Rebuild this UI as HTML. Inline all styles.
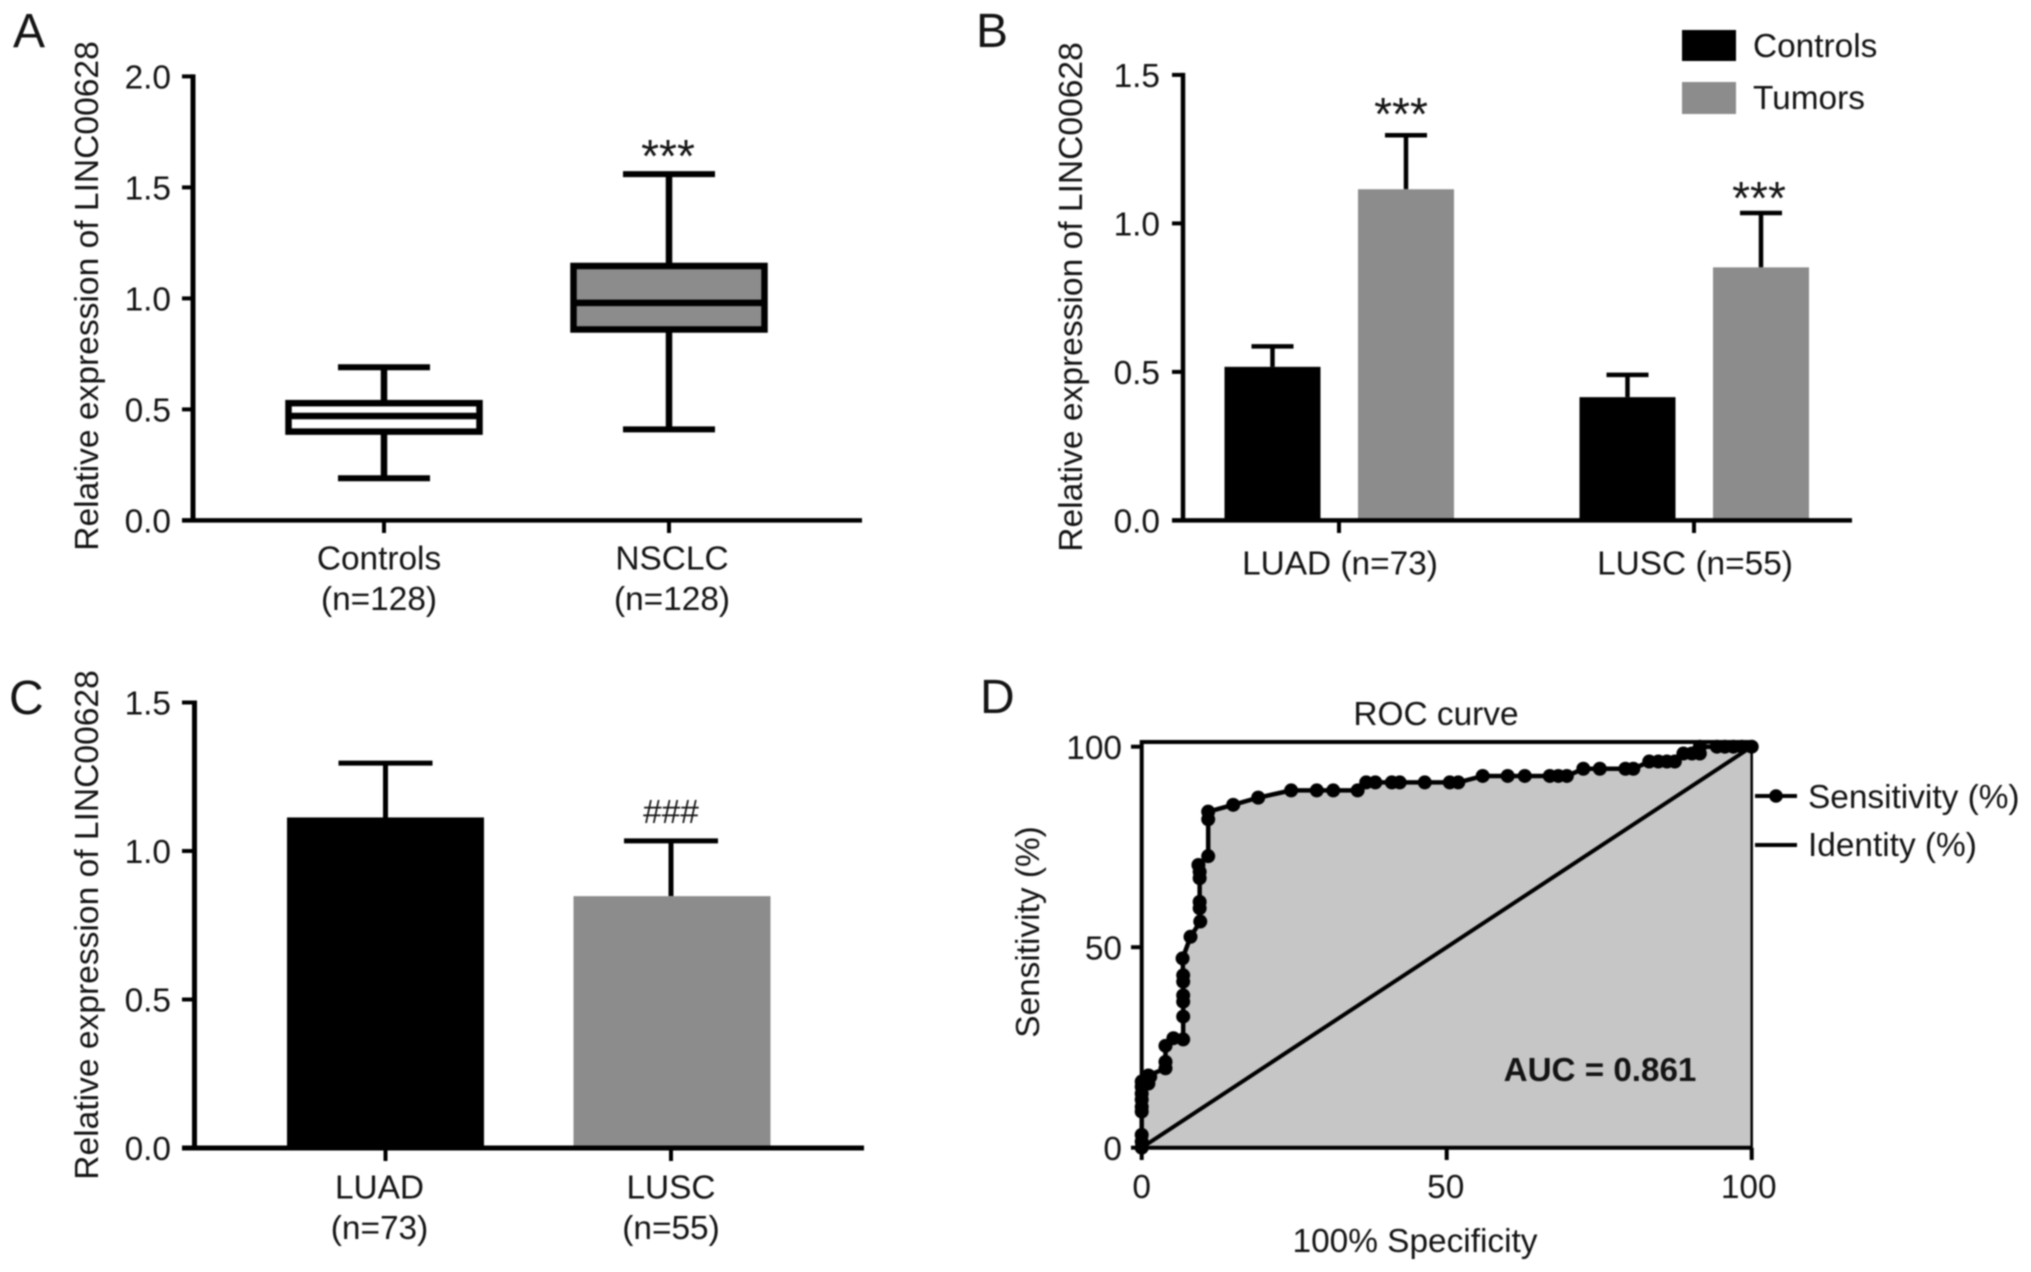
<!DOCTYPE html>
<html lang="en">
<head>
<meta charset="utf-8">
<title>LINC00628 expression figure</title>
<style>
html,body{margin:0;padding:0;background:#fff;overflow:hidden}
svg{display:block;filter:blur(.85px)}
text{font-family:"Liberation Sans",sans-serif;font-size:33.4px;fill:#141414}
.letter{font-size:48px}
</style>
</head>
<body>
<svg id="figure" xmlns="http://www.w3.org/2000/svg" width="2031" height="1272" viewBox="0 0 2031 1272">
  <rect width="2031" height="1272" fill="#fff"/>
  <text class="letter" x="13" y="47">A</text>
  <text class="letter" x="976" y="47">B</text>
  <text class="letter" x="9" y="714">C</text>
  <text class="letter" x="980" y="713">D</text>

  <g id="panelA"></g>
  <g id="panelB"></g>
  <g id="panelC"></g>
  <g id="panelD"></g>

  <text text-anchor="middle" style="font-size:33.6px" transform="translate(98,296) rotate(-90)">Relative expression of LINC00628</text>
  <text text-anchor="middle" style="font-size:33.6px" transform="translate(1082,297) rotate(-90)">Relative expression of LINC00628</text>
  <text text-anchor="middle" style="font-size:33.6px" transform="translate(98,925) rotate(-90)">Relative expression of LINC00628</text>
  <text text-anchor="middle" transform="translate(1039,932) rotate(-90)">Sensitivity (%)</text>

  <rect x="1682" y="30" width="54" height="31" fill="#000"/>
  <text x="1753" y="57">Controls</text>
  <rect x="1682" y="82" width="54" height="32" fill="#8c8c8c"/>
  <text x="1753" y="109">Tumors</text>

  <text x="1436" y="725" text-anchor="middle">ROC curve</text>
  <text x="1415" y="1252" text-anchor="middle">100% Specificity</text>
  <text x="1600" y="1081" text-anchor="middle" style="font-size:33.2px;font-weight:bold">AUC = 0.861</text>
  <line x1="1755" x2="1797" y1="796" y2="796" stroke="#000" stroke-width="4"/>
  <circle cx="1776" cy="796" r="6.8" fill="#000"/>
  <text x="1808" y="808">Sensitivity (%)</text>
  <line x1="1755" x2="1797" y1="845" y2="845" stroke="#000" stroke-width="4"/>
  <text x="1808" y="856">Identity (%)</text>
</svg>
<script>
// Panel A: box plot data
const boxCategories = ['Controls', 'NSCLC'];
const boxSampleSizes = ['(n=128)', '(n=128)'];
const boxWhiskerHigh = [0.69, 1.56];
const boxQ3 = [0.528, 1.146];
const boxMedian = [0.47, 0.98];
const boxQ1 = [0.40, 0.86];
const boxWhiskerLow = [0.19, 0.41];
const boxTickValues = [0, 0.5, 1, 1.5, 2];
const boxTickLabels = ['0.0', '0.5', '1.0', '1.5', '2.0'];

// Panel B: grouped bars data
const groupCategories = ['LUAD (n=73)', 'LUSC (n=55)'];
const groupControlsMean = [0.517, 0.415];
const groupControlsUpper = [0.586, 0.49];
const groupTumorsMean = [1.115, 0.852];
const groupTumorsUpper = [1.297, 1.035];
const groupTickValues = [0, 0.5, 1, 1.5];
const groupTickLabels = ['0.0', '0.5', '1.0', '1.5'];

// Panel C: two-bar data
const subtypeCategories = ['LUAD', 'LUSC'];
const subtypeSampleSizes = ['(n=73)', '(n=55)'];
const subtypeMean = [1.113, 0.848];
const subtypeUpper = [1.296, 1.034];
const subtypeTickValues = [0, 0.5, 1, 1.5];
const subtypeTickLabels = ['0.0', '0.5', '1.0', '1.5'];

// Panel D: ROC data
const rocSpecificity = [0,0,0,0,0,0,0,0,0,1.1,1.4,1.1,3.9,3.9,3.9,5.2,6.8,6.8,6.8,6.8,6.8,6.8,6.7,8,9.6,9.5,9.5,9.5,9.5,9.3,10.9,10.9,10.9,15,19.1,24.5,28.7,31.4,35.4,36.8,38.3,41,42.3,46.4,50.5,51.9,55.9,60,62.8,66.9,68.3,69.7,72.4,75.1,79.3,80.6,83.2,84.7,86.1,87.4,88.8,90.2,91.5,91.5,94.3,95.6,97,98.4,100];
const rocSensitivity = [0,1.5,3.2,9,10.2,12,13.5,15.2,16.5,16,17.7,18,19.8,21.4,25.4,27.3,27,32.7,36.4,38,41.4,43,47.2,52.6,56.4,59.7,61.3,67.2,68.8,70.5,72.7,81.9,83.8,85.5,87.3,89.1,89.1,89.1,89.1,91.1,91.1,91.1,91.1,91.1,91.1,91.1,92.7,92.7,92.7,92.7,92.7,92.7,94.5,94.5,94.5,94.5,96.3,96.3,96.3,96.3,98.3,98.3,98.3,100,100,100,100,100,100];
const rocTickValues = [0, 50, 100];
const rocTickLabels = ['0', '50', '100'];
const identityLine = [0, 100];

const NS = 'http://www.w3.org/2000/svg';
const BLACK = '#000';
const GRAY = '#8c8c8c';

function mk(parent, tag, attrs, txt) {
  const el = document.createElementNS(NS, tag);
  for (const k in attrs) el.setAttribute(k, attrs[k]);
  if (txt !== undefined) el.textContent = txt;
  parent.appendChild(el);
  return el;
}
function seg(parent, x1, y1, x2, y2, w) {
  const el = mk(parent, 'line', {x1: x1, y1: y1, x2: x2, y2: y2, stroke: BLACK, 'stroke-width': w});
  
  return el;
}
function yAxis(parent, x, tickStart, yFn, vals, labels, labelRight, w) {
  const top = yFn(vals[vals.length - 1]);
  const bottom = yFn(vals[0]);
  const axis = seg(parent, x, top - 2, x, bottom, w);
  
  vals.forEach(function (v, i) {
    const tick = seg(parent, tickStart, yFn(v), x, yFn(v), 4);
    
    const lab = mk(parent, 'text', {x: labelRight, y: yFn(v) + 12, 'text-anchor': 'end'}, labels[i]);
    
    
  });
}
function errorBar(parent, cx, yTop, yBase, capHalf, w) {
  const stem = seg(parent, cx, yTop, cx, yBase, w);
  
  const cap = seg(parent, cx - capHalf, yTop, cx + capHalf, yTop, w);
  
}
function label(parent, x, y, str, size) {
  const el = mk(parent, 'text', {x: x, y: y, 'text-anchor': 'middle', style: 'font-size:' + size + 'px'}, str);
  
  return el;
}

/* ---------- Panel A ---------- */
(function () {
  const g = document.getElementById('panelA');
  const y = function (v) { return 520.4 - v * 222; };
  const x = function (i) { return 384 + i * 285; };
  const boxW = 191, capHalf = 46;
  boxCategories.forEach(function (c, i) {
    const cx = x(i);
    const stemTop = seg(g, cx, y(boxWhiskerHigh[i]), cx, y(boxQ3[i]), 6.5);
    
    const stemBot = seg(g, cx, y(boxQ1[i]), cx, y(boxWhiskerLow[i]), 6.5);
    
    const capTop = seg(g, cx - capHalf, y(boxWhiskerHigh[i]), cx + capHalf, y(boxWhiskerHigh[i]), 6);
    
    const capBot = seg(g, cx - capHalf, y(boxWhiskerLow[i]), cx + capHalf, y(boxWhiskerLow[i]), 6);
    
    const box = mk(g, 'rect', {x: cx - boxW / 2, y: y(boxQ3[i]), width: boxW, height: y(boxQ1[i]) - y(boxQ3[i]), fill: i === 0 ? '#fff' : GRAY, stroke: BLACK, 'stroke-width': 6.5});
    
    
    const med = seg(g, cx - boxW / 2, y(boxMedian[i]), cx + boxW / 2, y(boxMedian[i]), 6.5);
    
    const tick = seg(g, x(i), 520, x(i), 533, 4);
    
    const l1 = label(g, x(i) - 5 + i * 8, 569.5, c, 33.4);
    
    const l2 = label(g, x(i) - 5 + i * 8, 610, boxSampleSizes[i], 33.4);
    
  });
  yAxis(g, 193, 182, y, boxTickValues, boxTickLabels, 171, 5);
  const xa = seg(g, 182, 520.4, 862, 520.4, 4.5);
  
  const sig = label(g, x(1) - 1, 172, '***', 46);
  
})();

/* ---------- Panel B ---------- */
(function () {
  const g = document.getElementById('panelB');
  const y = function (v) { return 520.4 - v * 297; };
  const x = function (i) { return 1339 + i * 355; };
  const barW = 96, capHalf = 21;
  groupCategories.forEach(function (c, i) {
    const cLeft = x(i) - 66.5, cRight = x(i) + 67;
    errorBar(g, cLeft, y(groupControlsUpper[i]), y(groupControlsMean[i]), capHalf, 4.5);
    errorBar(g, cRight, y(groupTumorsUpper[i]), y(groupTumorsMean[i]), capHalf, 4.5);
    const b1 = mk(g, 'rect', {x: cLeft - barW / 2, y: y(groupControlsMean[i]), width: barW, height: y(0) - y(groupControlsMean[i]), fill: BLACK});
    
    
    const b2 = mk(g, 'rect', {x: cRight - barW / 2, y: y(groupTumorsMean[i]), width: barW, height: y(0) - y(groupTumorsMean[i]), fill: GRAY});
    
    
    const sig = label(g, cRight - 5 + i * 3, y(groupTumorsUpper[i]) - 5 + i * 6, '***', 46);
    
    const tick = seg(g, x(i), 520, x(i), 533, 4);
    
    const l = label(g, x(i) + 1, 574.5, c, 33.4);
    
  });
  yAxis(g, 1183, 1172, y, groupTickValues, groupTickLabels, 1160, 4.5);
  const xa = seg(g, 1172, 520.4, 1852, 520.4, 4.5);
  
})();

/* ---------- Panel C ---------- */
(function () {
  const g = document.getElementById('panelC');
  const y = function (v) { return 1148 - v * 297; };
  const x = function (i) { return 385.5 + i * 285.5; };
  const barW = 197, capHalf = 47;
  subtypeCategories.forEach(function (c, i) {
    errorBar(g, x(i), y(subtypeUpper[i]), y(subtypeMean[i]), capHalf, 5);
    const b = mk(g, 'rect', {x: x(i) - barW / 2 + i, y: y(subtypeMean[i]), width: barW, height: y(0) - y(subtypeMean[i]), fill: i === 0 ? BLACK : GRAY});
    
    
    const tick = seg(g, x(i), 1148, x(i), 1161, 4);
    
    const l1 = label(g, x(i) - 6 + i * 6, 1198.5, c, 33.4);
    
    const l2 = label(g, x(i) - 6 + i * 6, 1239, subtypeSampleSizes[i], 33.4);
    
  });
  yAxis(g, 194.5, 182, y, subtypeTickValues, subtypeTickLabels, 171, 5);
  const xa = seg(g, 182, 1148, 864, 1148, 5);
  
  const sig = label(g, x(1), 823, '###', 33.4);
  
})();

/* ---------- Panel D ---------- */
(function () {
  const g = document.getElementById('panelD');
  const x = function (v) { return 1141.7 + v * 6.1; };
  const y = function (v) { return 1147.7 - v * 4.01; };
  const pts = rocSpecificity.map(function (s, i) { return x(s) + ',' + y(rocSensitivity[i]); });
  const area = mk(g, 'polygon', {points: pts.join(' ') + ' ' + x(100) + ',' + y(0), fill: '#c6c6c6'});
  
  
  const frameTop = seg(g, x(0) - 1, 742, x(100), 742, 4);
  
  const frameRight = seg(g, x(100), y(100), x(100), y(0), 2.5);
  
  const frameLeft = seg(g, x(0), 740, x(0), y(0), 4);
  
  const frameBottom = seg(g, x(0), y(0), x(100), y(0), 4);
  
  rocTickValues.forEach(function (v, i) {
    const ty = seg(g, 1131, y(v), x(0), y(v), 4);
    
    const ly = mk(g, 'text', {x: 1122, y: y(v) + 12.5, 'text-anchor': 'end'}, rocTickLabels[i]);
    
    
    const tx = seg(g, x(v), y(0), x(v), 1160, 4);
    
    const lx = label(g, x(v) - (i === 2 ? 3 : 0) - (i === 1 ? 1 : 0), 1198, rocTickLabels[i], 33.4);
    
  });
  const diag = seg(g, x(identityLine[0]), y(identityLine[0]), x(identityLine[1]), y(identityLine[1]), 4);
  
  const curve = mk(g, 'polyline', {points: pts.join(' '), fill: 'none', stroke: BLACK, 'stroke-width': 4.5});
  
  
  rocSpecificity.forEach(function (s, i) {
    const p = mk(g, 'circle', {cx: x(s), cy: y(rocSensitivity[i]), r: 7, fill: BLACK});
    
    
  });
})();
</script>
</body>
</html>
